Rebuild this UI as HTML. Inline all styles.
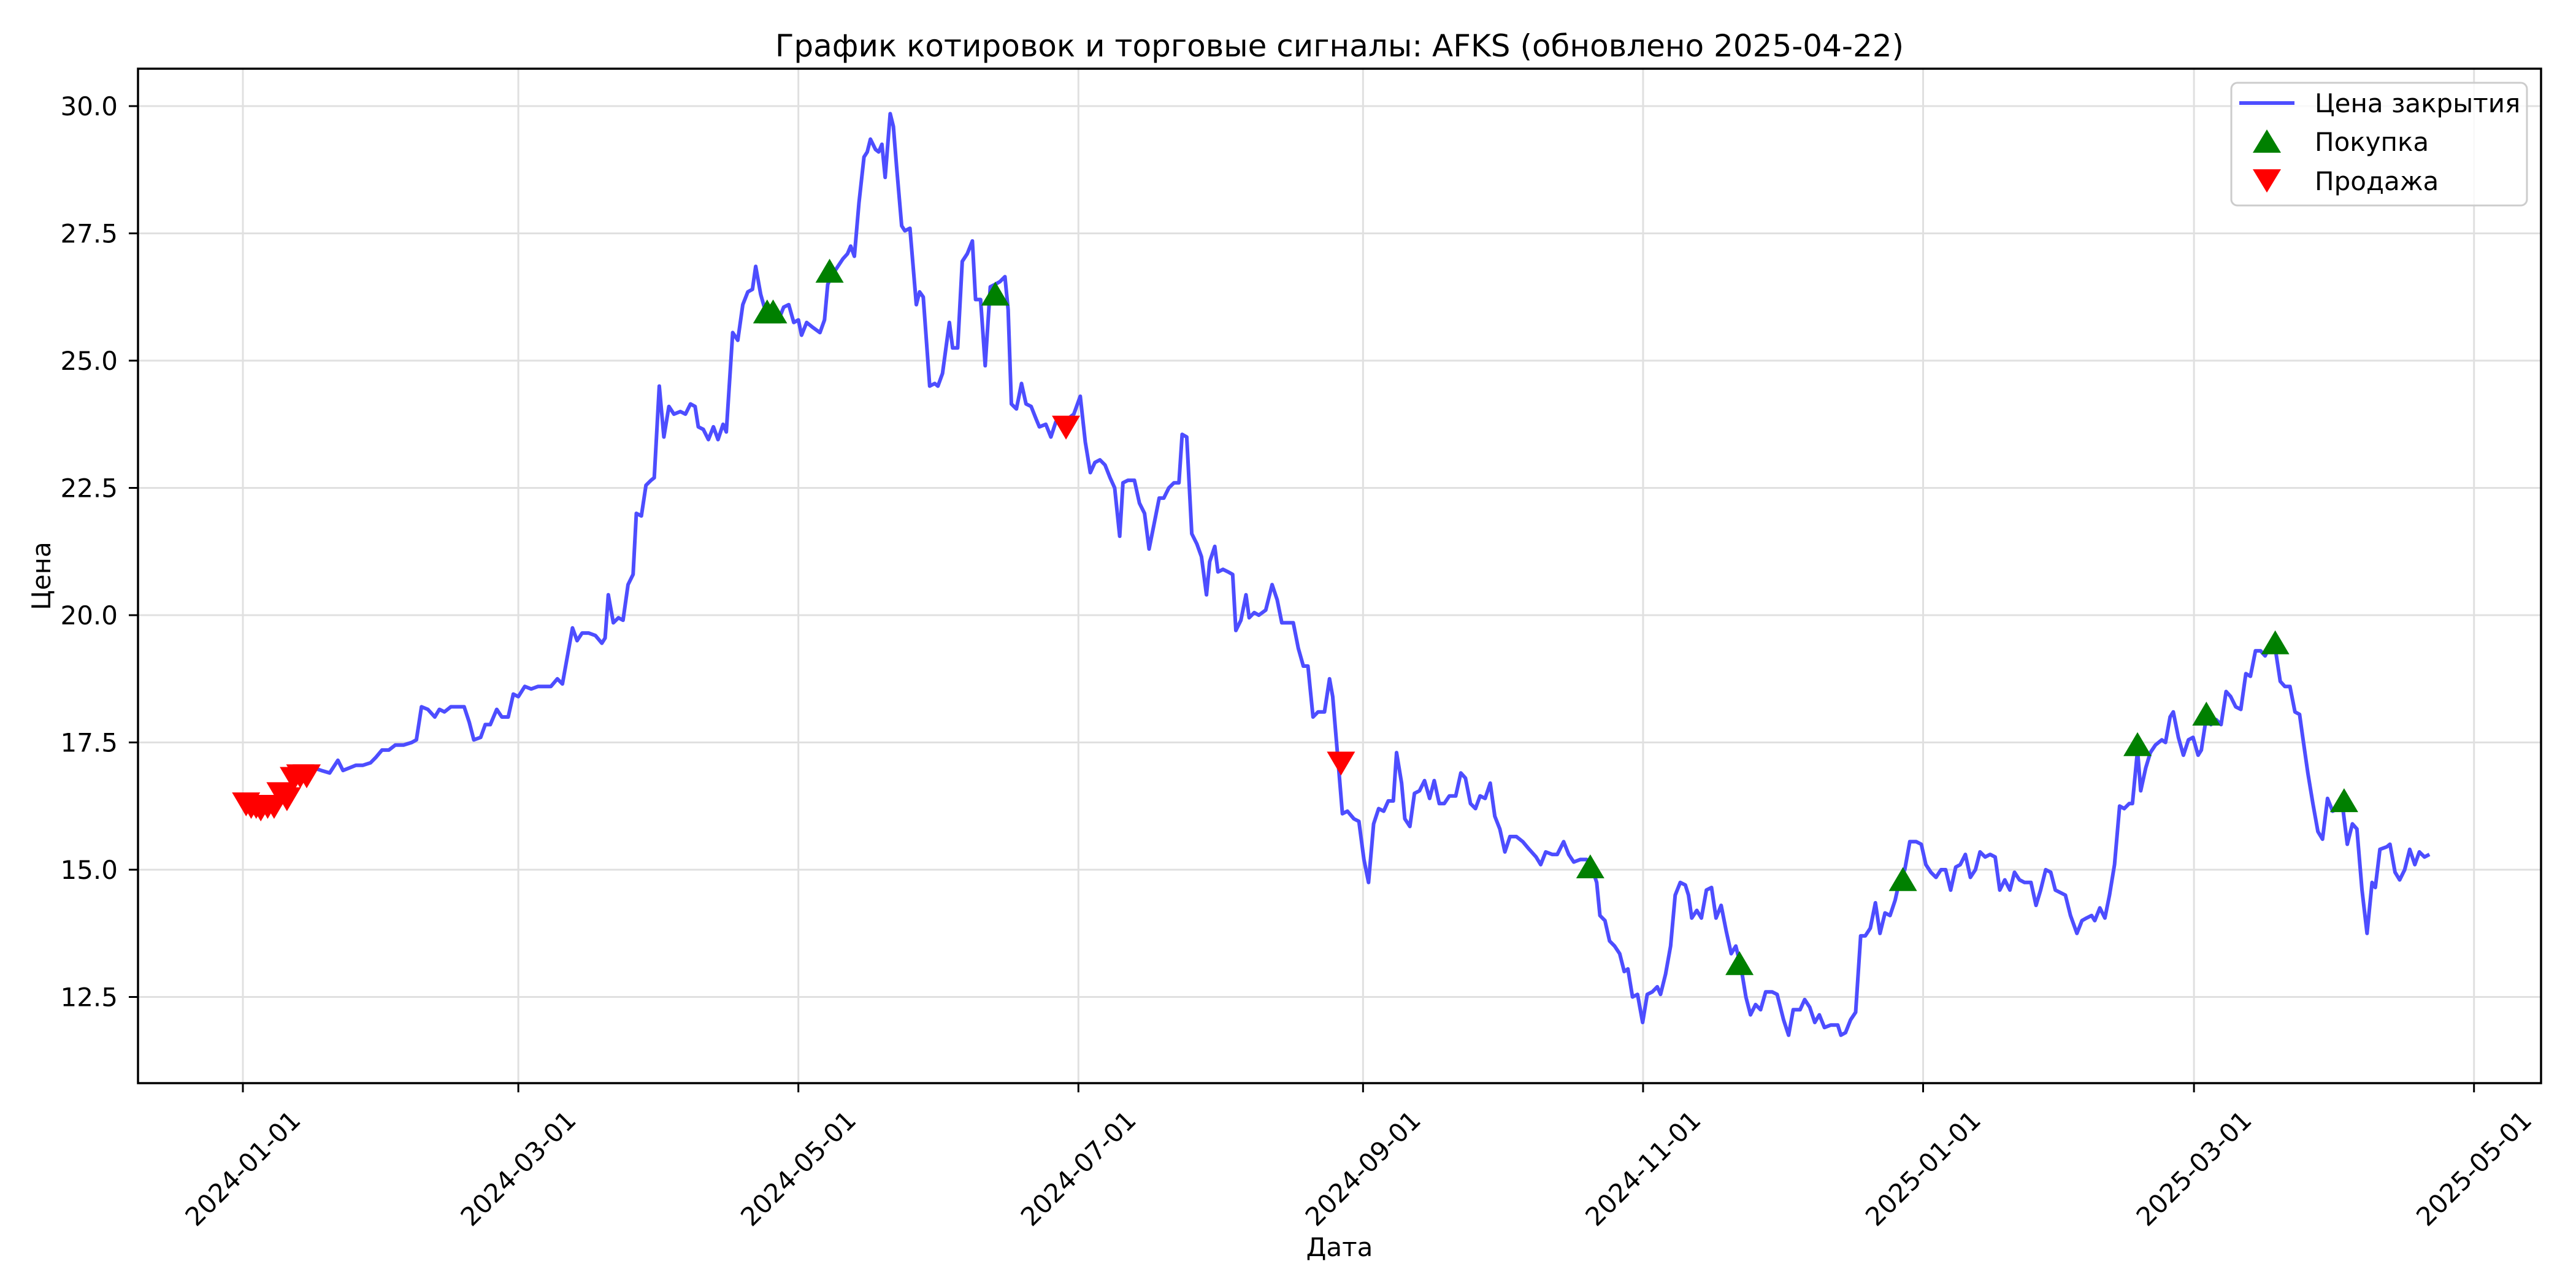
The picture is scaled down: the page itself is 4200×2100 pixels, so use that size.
<!DOCTYPE html>
<html><head><meta charset="utf-8">
<style>html,body{margin:0;padding:0;background:#fff}svg{display:block}text{font-family:"DejaVu Sans","Liberation Sans",sans-serif;fill:#000}</style>
</head><body>
<svg id="chart" width="4200" height="2100" viewBox="0 0 4200 2100" xmlns="http://www.w3.org/2000/svg">
<rect width="4200" height="2100" fill="#fff"/>
<g id="grid"></g>
<g id="series"></g>
<rect x="225" y="112" width="3918" height="1654" fill="none" stroke="#000" stroke-width="3.5"/>
<g id="axes"></g>
<text x="2184" y="92" font-size="50" text-anchor="middle">График котировок и торговые сигналы: AFKS (обновлено 2025-04-22)</text>
<text x="2184" y="2048" font-size="42" text-anchor="middle">Дата</text>
<text x="82" y="939" font-size="42" text-anchor="middle" transform="rotate(-90 82 939)">Цена</text>
<g>
<rect x="3638" y="135" width="482" height="200" rx="10" fill="#fff" fill-opacity="0.8" stroke="#ccc" stroke-width="3"/>
<line x1="3651" y1="168" x2="3741" y2="168" stroke="rgb(77,77,255)" stroke-width="6"/>
<text x="3774" y="183" font-size="42">Цена закрытия</text>
<polygon points="3696,211 3719,249 3673,249" fill="#008000"/>
<text x="3774" y="246" font-size="42">Покупка</text>
<polygon points="3673,276 3719,276 3696,314" fill="#ff0000"/>
<text x="3774" y="310" font-size="42">Продажа</text>
</g>
</svg>
<script>
// day offsets from 2024-01-01
const days=[0.7,1.8,2.9,3.9,5.4,6.8,8.2,9.6,11.1,12.5,13.9,15.4,17.1,18.9,20.7,21.8,23.2,24.6,26.1,27.8,28.9,30.3,31.8,33.2,35.0,36.8,37.8,38.9,40.3,41.8,42.8,43.9,45.3,46.8,48.2,49.3,50.3,51.8,52.8,53.9,55.3,56.4,57.8,58.9,60.0,61.4,62.8,64.3,65.7,67.1,68.5,69.6,71.8,72.8,73.9,75.3,76.8,78.2,78.9,79.6,80.7,81.8,82.8,83.9,85.0,85.7,86.8,87.8,88.9,89.6,90.7,91.7,92.8,93.9,95.3,96.4,97.5,98.5,99.2,100.3,101.4,102.5,103.5,104.6,105.3,106.7,107.8,108.9,110.0,111.0,111.7,112.8,113.9,115.3,116.7,117.8,118.9,120.0,121.0,121.7,122.8,124.2,125.7,126.7,127.4,128.5,129.6,130.7,131.7,132.4,133.2,134.2,135.3,136.0,136.7,137.8,138.5,139.2,139.9,141.0,141.7,142.4,143.5,144.2,145.3,146.7,147.4,148.2,149.6,150.7,151.4,152.4,153.9,154.6,155.7,156.7,157.8,158.9,159.6,160.7,161.7,162.8,163.9,164.9,166.0,166.7,167.4,168.5,169.6,170.6,171.7,172.8,173.5,174.9,176.0,177.1,178.1,179.6,181.0,182.4,183.5,184.6,185.6,186.7,187.8,188.9,189.9,191.0,191.7,192.8,194.2,195.3,196.4,197.4,198.5,199.6,200.6,201.7,202.8,203.9,204.6,205.6,206.7,207.8,208.8,209.9,210.6,211.7,212.4,213.5,214.6,215.6,216.3,217.4,218.5,219.2,220.3,221.3,222.8,224.2,225.3,226.3,227.4,228.8,229.9,231.0,232.0,233.1,234.2,235.6,236.7,237.4,238.5,239.5,240.6,242.0,243.1,244.2,245.2,246.3,247.4,248.5,249.5,250.6,251.3,252.4,253.1,254.2,255.2,256.3,257.4,258.5,259.5,260.6,261.7,262.8,264.2,265.3,266.3,267.4,268.5,269.5,270.6,271.7,272.7,273.8,274.9,276.0,277.4,278.8,280.2,281.7,282.7,283.8,285.2,286.3,287.7,288.8,289.9,291.3,292.7,293.8,294.9,295.6,296.7,297.7,298.8,299.9,300.9,301.7,302.7,303.8,304.9,305.9,307.0,308.1,308.8,309.9,311.0,312.0,313.1,314.2,314.9,315.6,316.7,317.7,318.8,319.9,320.9,322.0,323.1,324.2,325.2,326.3,327.4,328.4,329.5,330.6,331.7,333.1,334.2,335.6,336.7,337.7,339.2,340.2,341.3,342.4,343.4,344.5,345.9,347.4,348.1,349.1,350.2,351.3,352.4,353.4,354.5,355.6,356.6,357.7,358.8,359.9,360.9,362.0,363.1,364.5,365.6,366.6,367.7,368.8,369.9,370.9,372.0,373.1,374.1,375.2,376.3,377.4,378.4,379.5,380.6,381.7,382.7,383.8,384.9,385.9,387.0,388.1,389.5,390.6,391.6,392.7,393.8,394.8,395.9,397.0,398.1,399.5,400.6,401.6,402.7,403.4,404.5,405.6,406.6,407.7,408.8,409.8,410.9,411.6,412.7,413.4,414.5,415.5,416.6,418.0,418.8,419.8,420.5,421.6,422.7,423.8,424.8,425.9,426.6,427.7,428.7,429.8,430.9,432.0,433.0,434.1,435.2,436.3,437.3,438.4,439.5,440.5,441.6,442.7,443.8,444.8,445.9,447.0,448.0,448.7,449.8,450.9,452.0,453.0,454.1,455.2,456.3,457.3,458.4,459.5,460.5,461.6,462.7,463.8,464.5,465.5,467.0,467.7,468.8,469.8,470.9,472.0,473.1,474.1,475.2,476.3];
const prices=[16.4,16.2,16.35,16.2,16.4,16.3,16.6,16.5,16.8,16.95,16.9,17.0,16.95,16.9,17.15,16.95,17.0,17.05,17.05,17.1,17.2,17.35,17.35,17.45,17.45,17.5,17.55,18.2,18.15,18.0,18.15,18.1,18.2,18.2,18.2,17.9,17.55,17.6,17.85,17.85,18.15,18.0,18.0,18.45,18.4,18.6,18.55,18.6,18.6,18.6,18.75,18.65,19.75,19.5,19.65,19.65,19.6,19.45,19.55,20.4,19.85,19.95,19.9,20.6,20.8,22.0,21.95,22.55,22.65,22.7,24.5,23.5,24.1,23.95,24.0,23.95,24.15,24.1,23.7,23.65,23.45,23.7,23.45,23.75,23.6,25.55,25.4,26.1,26.35,26.4,26.85,26.3,25.95,25.9,25.8,26.05,26.1,25.75,25.8,25.5,25.75,25.65,25.55,25.8,26.5,26.7,26.85,27.0,27.1,27.25,27.05,28.1,29.0,29.1,29.35,29.15,29.1,29.25,28.6,29.85,29.6,28.8,27.65,27.55,27.6,26.1,26.35,26.25,24.5,24.55,24.5,24.75,25.75,25.25,25.25,26.95,27.1,27.35,26.2,26.2,24.9,26.45,26.5,26.55,26.65,26.0,24.15,24.05,24.55,24.15,24.1,23.85,23.7,23.75,23.5,23.8,23.75,23.85,23.95,24.3,23.4,22.8,23.0,23.05,22.95,22.7,22.5,21.55,22.6,22.65,22.65,22.2,22.0,21.3,21.8,22.3,22.3,22.5,22.6,22.6,23.55,23.5,21.6,21.4,21.15,20.4,21.05,21.35,20.85,20.9,20.85,20.8,19.7,19.9,20.4,19.95,20.05,20.0,20.1,20.6,20.3,19.85,19.85,19.85,19.35,19.0,19.0,18.0,18.1,18.1,18.75,18.4,17.2,16.1,16.15,16.0,15.95,15.2,14.75,15.9,16.2,16.15,16.35,16.35,17.3,16.7,16.0,15.85,16.5,16.55,16.75,16.4,16.75,16.3,16.3,16.45,16.45,16.9,16.8,16.3,16.2,16.45,16.4,16.7,16.05,15.8,15.35,15.65,15.65,15.55,15.4,15.25,15.1,15.35,15.3,15.3,15.55,15.3,15.15,15.2,15.2,15.05,14.75,14.1,14.0,13.6,13.5,13.35,13.0,13.05,12.5,12.55,12.0,12.55,12.6,12.7,12.55,12.95,13.5,14.5,14.75,14.7,14.5,14.05,14.2,14.05,14.6,14.65,14.05,14.3,13.8,13.35,13.5,13.1,12.5,12.15,12.35,12.25,12.6,12.6,12.55,12.05,11.75,12.25,12.25,12.45,12.3,12.0,12.15,11.9,11.95,11.95,11.75,11.8,12.05,12.2,13.7,13.7,13.85,14.35,13.75,14.15,14.1,14.4,14.8,15.0,15.55,15.55,15.5,15.1,14.95,14.85,15.0,15.0,14.6,15.05,15.1,15.3,14.85,15.0,15.35,15.25,15.3,15.25,14.6,14.8,14.6,14.95,14.8,14.75,14.75,14.3,14.6,15.0,14.95,14.6,14.55,14.5,14.1,13.75,14.0,14.05,14.1,14.0,14.25,14.05,14.5,15.1,16.25,16.2,16.3,16.3,17.35,16.55,17.0,17.3,17.45,17.55,17.5,18.0,18.1,17.6,17.25,17.55,17.6,17.25,17.35,18.0,17.85,17.95,17.85,18.5,18.4,18.2,18.15,18.85,18.8,19.3,19.3,19.2,19.4,19.35,18.7,18.6,18.6,18.1,18.05,17.6,16.9,16.3,15.75,15.6,16.4,16.15,16.2,16.3,15.5,15.9,15.8,14.6,13.75,14.75,14.65,15.4,15.45,15.5,14.95,14.8,15.0,15.4,15.1,15.35,15.25,15.3];
const buyDays=[114.2,115.5,127.8,163.9,293.5,326.0,361.6,412.7,427.7,442.7,457.7];
const buyPrices=[25.9,25.9,26.7,26.25,15.0,13.1,14.75,17.4,18.0,19.4,16.3];
const sellDays=[0.7,1.8,2.9,3.9,5.4,6.8,8.2,9.6,11.1,12.5,13.9,179.3,239.2];
const sellPrices=[16.35,16.3,16.3,16.25,16.3,16.3,16.55,16.45,16.85,16.9,16.9,23.75,17.15];
const xTickDays=[0,60,121,182,244,305,366,425,486];
const xTickLabels=["2024-01-01","2024-03-01","2024-05-01","2024-07-01","2024-09-01","2024-11-01","2025-01-01","2025-03-01","2025-05-01"];
const yTicks=[12.5,15.0,17.5,20.0,22.5,25.0,27.5,30.0];

const NS="http://www.w3.org/2000/svg";
const X0=225,X1=4143,Y0=112,Y1=1766;
function xs(d){return 396+d*7.485;}
function ys(p){return 173+(30-p)*83;}
function mk(tag,attrs,parent){const e=document.createElementNS(NS,tag);for(const k in attrs)e.setAttribute(k,attrs[k]);parent.appendChild(e);return e;}
const grid=document.getElementById('grid'),series=document.getElementById('series'),axes=document.getElementById('axes');

xTickDays.forEach((d,i)=>{
  const x=xs(d);
  const g=mk('line',{x1:x,y1:Y0,x2:x,y2:Y1,stroke:'#e0e0e0','stroke-width':3},grid);
  
  
  const t=mk('line',{x1:x,y1:Y1,x2:x,y2:Y1+15,stroke:'#000','stroke-width':3},axes);
  
  
  const cy=1905;
  const lb=mk('text',{x:x,y:cy,'font-size':42,'text-anchor':'middle','dominant-baseline':'central',transform:`rotate(-45 ${x} ${cy})`},axes);
  lb.textContent=xTickLabels[i];
  
  
});
yTicks.forEach(v=>{
  const y=ys(v);
  const g=mk('line',{x1:X0,y1:y,x2:X1,y2:y,stroke:'#e0e0e0','stroke-width':3},grid);
  
  
  const t=mk('line',{x1:X0-15,y1:y,x2:X0,y2:y,stroke:'#000','stroke-width':3},axes);
  
  
  const lb=mk('text',{x:192,y:y+15,'font-size':42,'text-anchor':'end'},axes);
  lb.textContent=v.toFixed(1);
  
  
});
const pts=days.map((d,i)=>xs(d).toFixed(1)+','+ys(prices[i]).toFixed(1)).join(' ');
const line=mk('polyline',{points:pts,fill:'none',stroke:'rgb(77,77,255)','stroke-width':6,'stroke-linejoin':'round'},series);


buyDays.forEach((d,i)=>{
  const x=xs(d),y=ys(buyPrices[i]);
  const m=mk('polygon',{points:`${x},${y-25} ${x+23},${y+14} ${x-23},${y+14}`,fill:'#008000'},series);
  
  
});
sellDays.forEach((d,i)=>{
  const x=xs(d),y=ys(sellPrices[i]);
  const m=mk('polygon',{points:`${x-23},${y-14} ${x+23},${y-14} ${x},${y+25}`,fill:'#ff0000'},series);
  
  
});
</script>
</body></html>
